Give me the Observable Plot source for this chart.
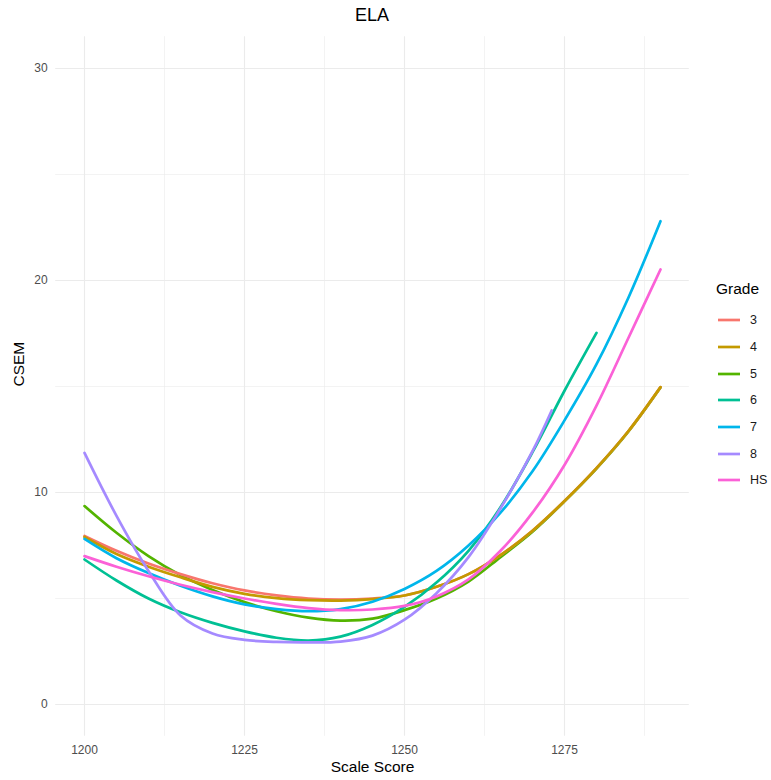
<!DOCTYPE html>
<html>
<head>
<meta charset="utf-8">
<script src="https://cdn.jsdelivr.net/npm/d3@7"></script>
<script src="https://cdn.jsdelivr.net/npm/@observablehq/plot@0.6"></script>
<style>
  html, body { margin: 0; padding: 0; background: #fff; }
  #wrap { position: relative; width: 771px; height: 780px; font-family: "Liberation Sans", Arial, sans-serif; }
  #title { position: absolute; left: 55px; width: 634px; top: 0; height: 30px; line-height: 30px; text-align: center; font-size: 18px; color: #000; }
  #chart { position: absolute; left: 0; top: 30px; }
  #legend { position: absolute; left: 716px; top: 278px; font-size: 12.5px; color: #1a1a1a; }
  #legend .ttl { font-size: 15.5px; color: #000; height: 22px; line-height: 22px; margin-bottom: 7px; }
  #legend .item { height: 26.7px; display: flex; align-items: center; }
  #legend .item svg { margin-left: 2px; margin-right: 10px; }
</style>
</head>
<body>
<div id="wrap">
  <div id="title">ELA</div>
  <div id="chart"></div>
  <div id="legend"></div>
</div>
<script>
// ---- data ----
const grades = ["3", "4", "5", "6", "7", "8", "HS"];
const gradeColors = ["#F8766D", "#C49A00", "#53B400", "#00C094", "#00B6EB", "#A58AFF", "#FB61D7"];

const scores = [1200, 1205, 1210, 1215, 1220, 1225, 1230, 1235, 1240, 1245, 1250, 1255, 1260, 1265, 1270, 1275, 1280, 1285, 1290];
const scores6 = [1200, 1205, 1210, 1215, 1220, 1225, 1230, 1235, 1240, 1245, 1250, 1255, 1260, 1265, 1270, 1275, 1280];
const scores8 = [1200, 1205, 1210, 1215, 1220, 1225, 1230, 1235, 1240, 1245, 1250, 1255, 1260, 1265, 1270, 1273];

const grade3 = [7.95, 7.25, 6.65, 6.15, 5.72, 5.38, 5.15, 5.0, 4.95, 5.0, 5.14, 5.55, 6.15, 7.05, 8.2, 9.6, 11.15, 12.9, 14.97];
const grade4 = [7.9, 7.1, 6.5, 6.0, 5.55, 5.22, 5.02, 4.92, 4.9, 4.97, 5.14, 5.55, 6.15, 7.05, 8.2, 9.6, 11.15, 12.9, 14.97];
const grade5 = [9.36, 8.1, 7.0, 6.1, 5.4, 4.83, 4.4, 4.1, 3.96, 4.05, 4.45, 5.0, 5.8, 6.95, 8.15, 9.58, 11.13, 12.88, 14.95];
const grade6 = [6.84, 5.85, 5.0, 4.35, 3.85, 3.45, 3.15, 3.02, 3.2, 3.75, 4.6, 5.75, 7.25, 9.3, 11.9, 14.8, 17.53];
const grade7 = [7.81, 6.9, 6.2, 5.6, 5.1, 4.72, 4.5, 4.4, 4.5, 4.85, 5.45, 6.3, 7.5, 9.05, 11.0, 13.4, 16.05, 19.2, 22.8];
const grade8 = [11.87, 8.9, 6.3, 4.2, 3.35, 3.05, 2.95, 2.93, 2.97, 3.25, 4.0, 5.25, 6.95, 9.25, 11.95, 13.87];
const gradeHS = [7.0, 6.5, 6.05, 5.65, 5.3, 5.0, 4.75, 4.55, 4.45, 4.48, 4.65, 5.1, 5.9, 7.25, 9.05, 11.3, 14.1, 17.3, 20.52];

const xMajor = [1200, 1225, 1250, 1275];
const xMinor = [1212.5, 1237.5, 1262.5, 1287.5];
const yMajor = [0, 10, 20, 30];
const yMinor = [5, 15, 25];

// drawing order (grade 5 sits beneath grade 4 where they coincide)
const series = [
  ["5", scores, grade5],
  ["3", scores, grade3],
  ["4", scores, grade4],
  ["6", scores6, grade6],
  ["7", scores, grade7],
  ["8", scores8, grade8],
  ["HS", scores, gradeHS]
];
const rows = [];
for (const [g, xs, ys] of series) {
  xs.forEach((x, i) => rows.push({grade: g, score: x, csem: ys[i]}));
}

const grid = "#EBEBEB";
const chart = Plot.plot({
  width: 771,
  height: 750,
  marginLeft: 55.2,
  marginRight: 82.2,
  marginTop: 6.2,
  marginBottom: 44.2,
  style: {fontFamily: "'Liberation Sans', Arial, sans-serif", background: "white"},
  x: {domain: [1195.5, 1294.5]},
  y: {domain: [-1.5, 31.5]},
  color: {domain: grades, range: gradeColors},
  marks: [
    Plot.ruleX(xMinor, {stroke: grid, strokeWidth: 0.6}),
    Plot.ruleY(yMinor, {stroke: grid, strokeWidth: 0.6}),
    Plot.ruleX(xMajor, {stroke: grid, strokeWidth: 1.1}),
    Plot.ruleY(yMajor, {stroke: grid, strokeWidth: 1.1}),
    Plot.axisX({ticks: xMajor, tickSize: 0, tickPadding: 9, fontSize: 12, color: "#4D4D4D", tickFormat: d => String(d), label: null}),
    Plot.axisY({ticks: yMajor, tickSize: 0, tickPadding: 8, fontSize: 12, color: "#4D4D4D", tickFormat: d => String(d), label: null}),
    Plot.line(rows, {x: "score", y: "csem", z: "grade", stroke: "grade", strokeWidth: 2.7, curve: "catmull-rom"}),
    Plot.text(["Scale Score"], {text: d => d, frameAnchor: "bottom", dy: 36, fontSize: 15.5, fill: "#000"}),
    Plot.text(["CSEM"], {text: d => d, frameAnchor: "left", dx: -37, rotate: -90, fontSize: 15.5, fill: "#000"})
  ]
});
document.getElementById("chart").appendChild(chart);

// legend
const leg = document.getElementById("legend");
const t = document.createElement("div");
t.className = "ttl";
t.textContent = "Grade";
leg.appendChild(t);
grades.forEach((g, i) => {
  const it = document.createElement("div");
  it.className = "item";
  it.innerHTML = `<svg width="22" height="6"><line x1="0" x2="22" y1="3" y2="3" stroke="${gradeColors[i]}" stroke-width="2.7"/></svg><span>${g}</span>`;
  leg.appendChild(it);
});
</script>
</body>
</html>
